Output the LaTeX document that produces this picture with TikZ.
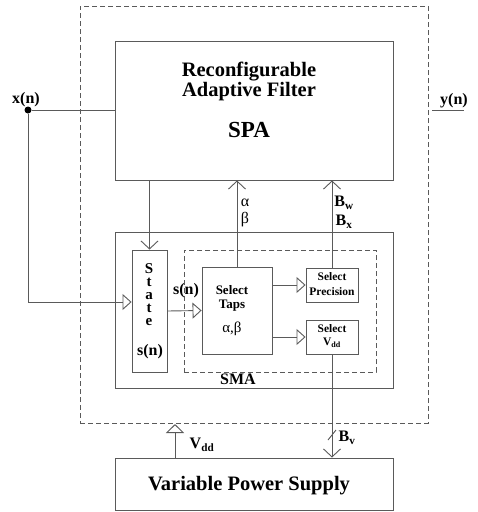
\documentclass[tikz,border=0pt]{standalone}
\usepackage{fontspec}
\setmainfont{Liberation Serif}
\usetikzlibrary{arrows.meta}
\definecolor{lc}{HTML}{5A5A5A}
\begin{document}
\begin{tikzpicture}[x=1pt,y=-1pt,
  box/.style={draw=lc, line width=0.9pt, inner sep=0pt},
  dbox/.style={box, dash pattern=on 5pt off 3pt},
  wire/.style={draw=lc, line width=0.9pt},
  vee/.style={wire, -{Straight Barb[length=8pt,width=17pt]}},
  tri/.style={wire, -{Triangle[open,length=9pt,width=16pt]}},
  lbl/.style={inner sep=0pt, text=black, align=center},
  fbig/.style={font=\fontsize{20.5}{22}\selectfont\bfseries},
  fmid/.style={font=\fontsize{16}{18}\selectfont\bfseries},
  fsm/.style={font=\fontsize{13}{14}\selectfont\bfseries},
  ftiny/.style={font=\fontsize{11.5}{13}\selectfont\bfseries}]
\useasboundingbox (0,0) rectangle (478,512);

% boxes
\node[dbox, minimum width=348pt, minimum height=417pt] (outer) at (254,214.5) {};
\node[box, minimum width=278pt, minimum height=139pt] (spa) at (254,110.5) {};
\node[box, minimum width=278pt, minimum height=156pt] (sma) at (254,310) {};
\node[dbox, minimum width=192pt, minimum height=122pt] (inner) at (280,311) {};
\node[box, minimum width=35pt, minimum height=122pt] (state) at (149.5,311) {};
\node[box, minimum width=70pt, minimum height=87pt] (taps) at (237,310.5) {};
\node[box, minimum width=52pt, minimum height=34pt] (prec) at (332,285) {};
\node[box, minimum width=52pt, minimum height=34pt] (vsel) at (332,337) {};
\node[box, minimum width=278pt, minimum height=52pt] (vps) at (254,484) {};

% texts
\node[lbl, fbig] (t1) at (249,72) {Reconfigurable};
\node[lbl, fbig] (t2) at (249,92) {Adaptive Filter};
\node[lbl, font=\fontsize{23}{25}\selectfont\bfseries] (t3) at (249,130) {SPA};
\node[lbl, fbig] (t4) at (249,486) {Variable Power Supply};
\node[lbl, fmid] (tsma) at (238,379) {SMA};
\node[lbl, anchor=north, font=\fontsize{15}{13}\selectfont\bfseries] (tst) at (149,263) {S\\t\\a\\t\\e};
\node[lbl, fmid] (tsn) at (150,352) {s(n)};
\node[lbl, fmid] (tsn2) at (186,291) {s(n)};
\node[lbl, fsm] (tsel) at (232,290) {Select};
\node[lbl, fsm] (ttap) at (232,306) {Taps};
\node[lbl, font=\fontsize{15}{16}\selectfont] (tab) at (232,329) {α,β};
\node[lbl, ftiny] (tp1) at (332,277) {Select};
\node[lbl, ftiny] (tp2) at (332,292) {Precision};
\node[lbl, ftiny] (tv1) at (332,329) {Select};
\node[lbl, ftiny] (tv2) at (332,343) {V\textsubscript{dd}};
\node[lbl, fmid] (txn) at (26,100) {x(n)};
\node[lbl, fmid] (tyn) at (454,101) {y(n)};
\node[lbl, font=\fontsize{16}{18}\selectfont] (tal) at (245,203) {α};
\node[lbl, font=\fontsize{16}{18}\selectfont] (tbe) at (245,220) {β};
\node[lbl, fmid] (tbw) at (344,203) {B\textsubscript{w}};
\node[lbl, fmid] (tbx) at (344,222) {B\textsubscript{x}};
\node[lbl, fmid] (tbv) at (347,438) {B\textsubscript{v}};
\node[lbl, fmid] (tvdd) at (202,445) {V\textsubscript{dd}};

% input node
\node[circle, fill=black, inner sep=0pt, minimum size=7pt] (dot) at (28,110) {};
\coordinate (yl) at (432,110);
\coordinate (yr) at (464,110);

% connectors
\draw[wire] (dot) -- (dot -| spa.west);
\draw[tri] (dot) |- (28,302) -- (state.west |- 0,302);
\draw[wire] (yl) -- (yr);
\draw[vee] (spa.south -| state.north) -- (state.north);
\draw[vee] (taps.north) -- (taps.north |- spa.south);
\draw[vee] (prec.north) -- (prec.north |- spa.south);
\draw[tri] (state.east) -- (taps.west);
\draw[tri] (taps.east |- prec.west) -- (prec.west);
\draw[tri] (taps.east |- vsel.west) -- (vsel.west);
\draw[vee] (vsel.south) -- (vsel.south |- vps.north);
\coordinate (s1) at (328,440);
\coordinate (s2) at (336,430);
\draw[wire] (s1) -- (s2);
\draw[wire, -{Triangle[open,length=9pt,width=18pt]}] (vps.north -| 175,0) -- (175,424);
\end{tikzpicture}
\end{document}
